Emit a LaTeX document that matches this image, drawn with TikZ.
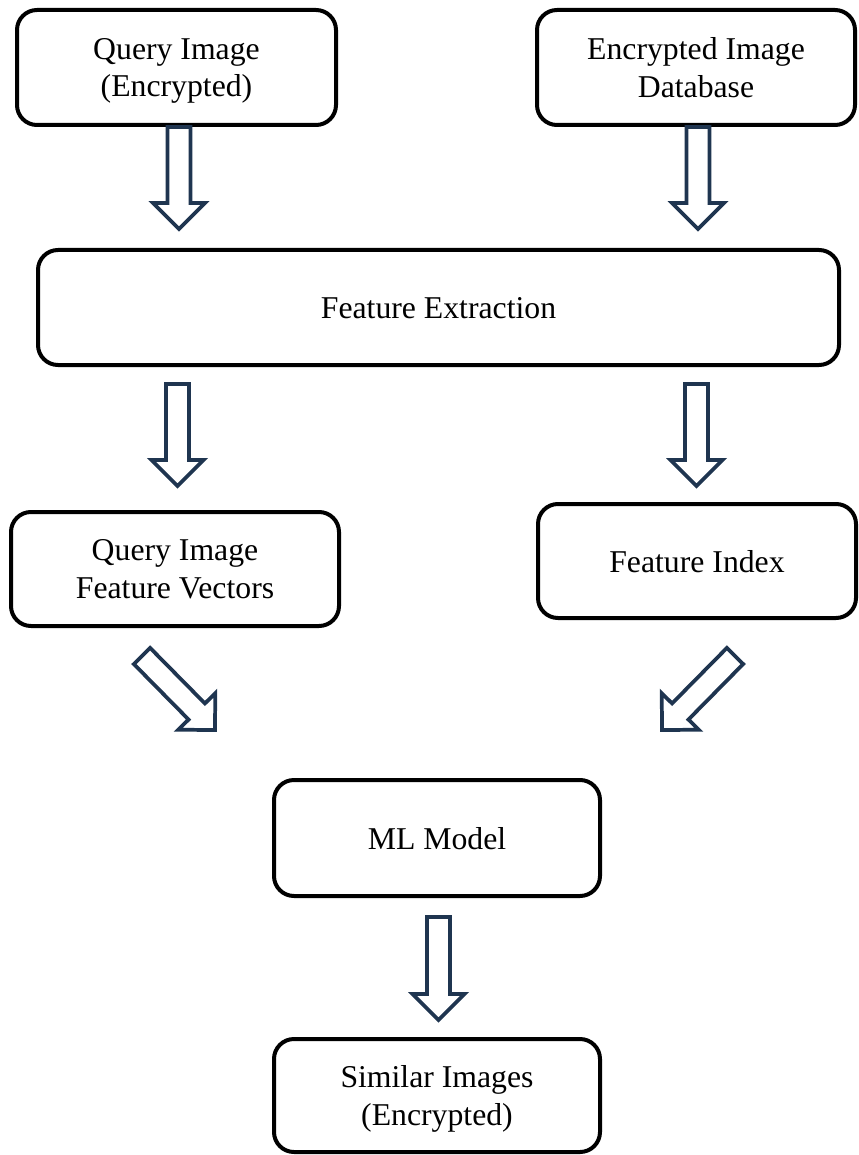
\documentclass[tikz,border=0pt]{standalone}
\usepackage{fontspec}
\setmainfont{Liberation Serif}
\usetikzlibrary{calc}

\definecolor{arrowblue}{HTML}{1F3550}

\tikzset{
    box/.style={draw, line width=3pt, rounded corners=15pt, inner sep=0pt,
        align=center, text depth=0pt, font=\fontsize{23.8}{28}\selectfont},
    blockarrow/.style={draw=arrowblue, line width=2.8pt, line join=miter, fill=white}
}

% 空心块状箭头：#1 为尾部坐标，#2 为箭尖坐标
\newcommand{\hollowarrow}[2]{%
    \coordinate (hb) at ($(#2)!19.5pt!(#1)$);
    \draw[blockarrow] ($(#1)!8.6pt!90:(#2)$) -- ($(hb)!8.6pt!90:(#2)$)
        -- ($(hb)!19.5pt!90:(#2)$) -- (#2) -- ($(hb)!19.5pt!-90:(#2)$)
        -- ($(hb)!8.6pt!-90:(#2)$) -- ($(#1)!8.6pt!-90:(#2)$) -- cycle;
}

\begin{document}
\begin{tikzpicture}[x=0.75pt, y=-0.75pt] % 以像素为单位，y 轴向下

    \useasboundingbox (0,0) rectangle (858,1155);

    % 1. 顶部两个输入框
    \node[box, minimum width=239.25pt, minimum height=86.25pt] (qimg) at (176.5,67.5) {Query Image\\(Encrypted)};
    \node[box, minimum width=238.5pt, minimum height=86.25pt] (encdb) at (696,67.5) {Encrypted Image\\Database};

    % 2. 特征提取
    \node[box, minimum width=600.75pt, minimum height=86.25pt] (featx) at (438.5,307.5) {Feature Extraction};

    % 3. 特征向量与特征索引
    \node[box, minimum width=246pt, minimum height=85.5pt] (qfv) at (175,569) {Query Image\\Feature Vectors};
    \node[box, minimum width=238.5pt, minimum height=85.5pt] (fidx) at (697,561) {Feature Index};

    % 4. 模型与输出
    \node[box, minimum width=244.5pt, minimum height=87pt] (mlm) at (437,838) {ML Model};
    \node[box, minimum width=244.5pt, minimum height=84.75pt] (simi) at (437,1095.5) {Similar Images\\(Encrypted)};

    % 5. 箭头的起点与终点
    \coordinate (qimg-out) at (179,127);   \coordinate (featx-in1) at (179,229);
    \coordinate (encdb-out) at (698,127);  \coordinate (featx-in2) at (698,229);
    \coordinate (featx-out1) at (177.5,384); \coordinate (qfv-in) at (177.5,486);
    \coordinate (featx-out2) at (696.5,384); \coordinate (fidx-in) at (696.5,486);
    \coordinate (qfv-out) at (142,656);    \coordinate (mlm-in1) at (215,730);
    \coordinate (fidx-out) at (735,656);   \coordinate (mlm-in2) at (662,730);
    \coordinate (mlm-out) at (438.5,917);  \coordinate (simi-in) at (438.5,1020);

    % 6. 空心箭头
    \hollowarrow{qimg-out}{featx-in1}
    \hollowarrow{encdb-out}{featx-in2}
    \hollowarrow{featx-out1}{qfv-in}
    \hollowarrow{featx-out2}{fidx-in}
    \hollowarrow{qfv-out}{mlm-in1}
    \hollowarrow{fidx-out}{mlm-in2}
    \hollowarrow{mlm-out}{simi-in}

\end{tikzpicture}
\end{document}
